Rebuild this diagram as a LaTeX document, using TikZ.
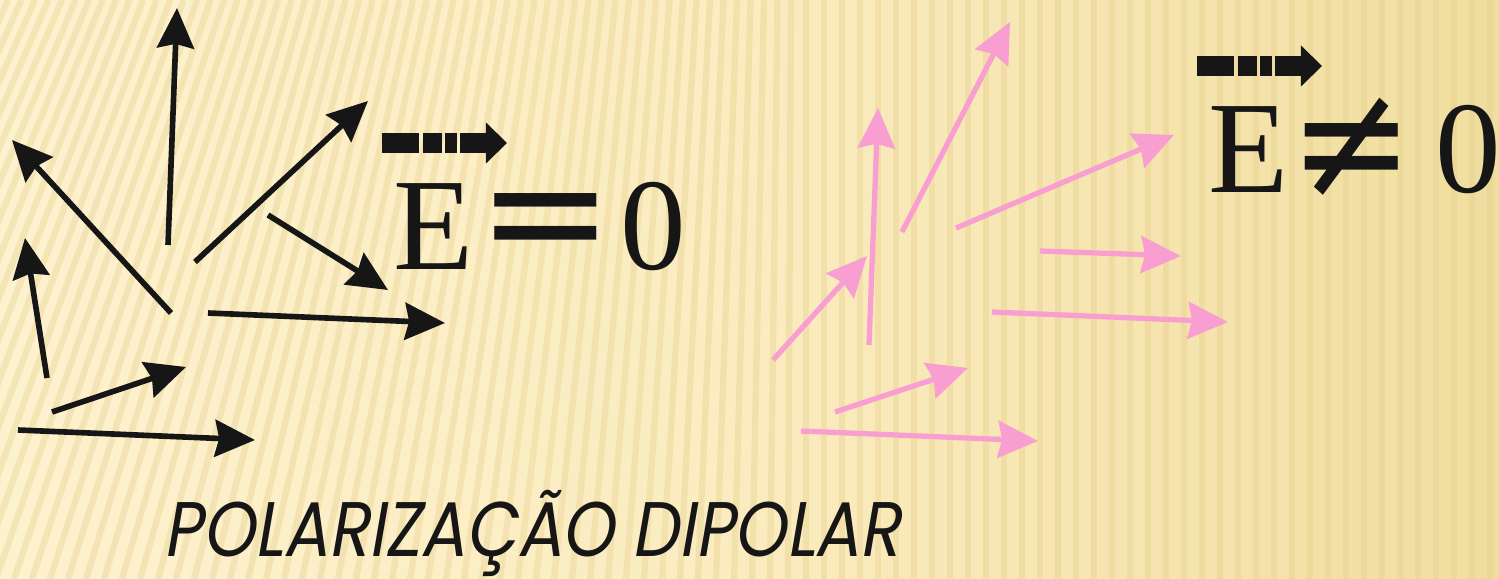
\documentclass[tikz,border=0pt]{standalone}
\usepackage{fontspec}
\usetikzlibrary{arrows.meta}
\newfontfamily\eqfont{Liberation Serif}
\newfontfamily\opfont{DejaVu Sans}
\newfontfamily\capfont[FakeSlant=0.2]{Poppins}
\definecolor{ink}{RGB}{22,22,22}
\definecolor{dipink}{RGB}{249,158,208}
\definecolor{creamL}{RGB}{253,242,206}
\definecolor{creamM}{RGB}{251,236,192}
\definecolor{creamR}{RGB}{240,222,160}
\definecolor{ridge}{RGB}{226,200,128}
\tikzset{vec/.style={line width=1.6pt,-{Stealth[length=11.4pt,width=10.5pt,inset=1.2pt]}},
  blackvec/.style={vec,draw=ink},
  pinkvec/.style={vec,draw=dipink,line width=1.5pt},
  fieldbar/.style={draw=ink,line width=5.7pt,
    dash pattern=on 10.5pt off 1.1pt on 5.4pt off 0.9pt on 3.4pt off 0.9pt on 20pt,
    -{Triangle[length=6pt,width=11.7pt,line width=0pt]}},
  bigsym/.style={inner sep=0,text=ink,font=\eqfont\fontsize{37.3}{40}\selectfont},
  opsym/.style={inner sep=0,text=ink,font=\opfont\fontsize{31.3}{34}\selectfont}}

\begin{document}
\begin{tikzpicture}[x=0.01cm,y=-0.01cm]
\useasboundingbox (0,0) rectangle (1499,579);
% background
\shade[left color=creamL,right color=creamR,middle color=creamM] (0,0) rectangle (1499,579);
\begin{scope}
\clip (0,0) rectangle (1499,579);
\foreach \x in {-400,-382,...,1520}{
  \pgfmathsetmacro{\dx}{\x<800 ? 200*(1-\x/800) : 0}
  \draw[ridge,opacity=0.3,line width=1.8pt] (\x,579) -- (\x+\dx,0);}
\end{scope}
% E = 0
\draw[fieldbar] (382,143) -- (507,143);
\node[bigsym,anchor=base west] (eL) at (393,270) {E};
\node[opsym,xscale=1.48,yscale=1.5] (eqL) at (546,231) {=};
\node[bigsym,anchor=base west] (zL) at (620,270) {0};
\foreach \a/\b/\c/\d in {168/245/177/8, 171/313/12/140, 195/262/368/101, 268/215/388/290,
  208/313/445/323, 47/378/25/238, 52/412/186/367, 18/430/255/440}
  {\draw[blackvec] (\a,\b) -- (\c,\d);}
% E /= 0
\draw[fieldbar] (1197,66) -- (1322,66);
\node[bigsym,anchor=base west] (eR) at (1208,193) {E};
\node[opsym,xscale=1.35,yscale=1.5] (neqR) at (1352,148) {≠};
\node[bigsym,anchor=base west] (zR) at (1435,193) {0};
\foreach \a/\b/\c/\d in {902/232/1010/22, 869/345/878/108, 773/360/867/256, 956/228/1174/135,
  1040/251/1181/256, 992/312/1228/322, 835/412/968/368, 801/431/1038/441}
  {\draw[pinkvec] (\a,\b) -- (\c,\d);}
% caption
\node[anchor=base west,inner sep=0,text=ink,xscale=0.86,font=\capfont\fontsize{22}{24}\selectfont]
  (polar) at (163,557) {POLARIZAÇÃO DIPOLAR};
\end{tikzpicture}
\end{document}
